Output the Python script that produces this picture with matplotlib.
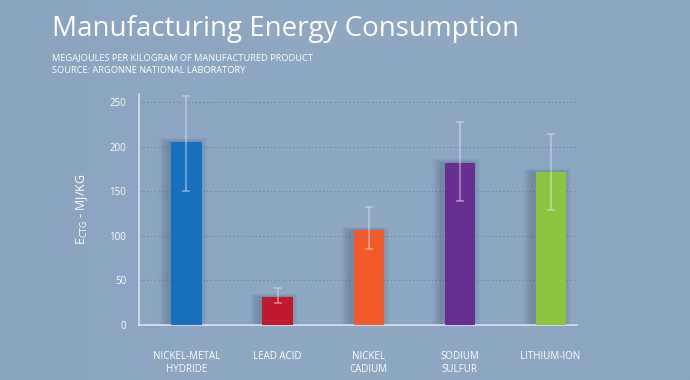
import numpy as np
import matplotlib.pyplot as plt
from matplotlib.colors import LinearSegmentedColormap

plt.rcParams["font.family"] = ["Open Sans", "DejaVu Sans"]

# data
labels = ["NICKEL-METAL\nHYDRIDE", "LEAD ACID", "NICKEL\nCADIUM", "SODIUM\nSULFUR", "LITHIUM-ION"]
energy = [205, 31, 106, 182, 171]
err_low = [150, 25, 85, 139, 129]
err_high = [257, 41, 132, 228, 214]
colors = ["#1670bf", "#c11a2c", "#f15a2a", "#692e91", "#8cc63f"]
yticks = [0, 50, 100, 150, 200, 250]

fig = plt.figure(figsize=(6.9, 3.8), dpi=100)

# background with a faint gradient
bg = fig.add_axes([0, 0, 1, 1], zorder=-10)
grad = np.linspace(0, 1, 256).reshape(1, -1)
cmap = LinearSegmentedColormap.from_list("bg", ["#8aa4c1", "#8fa9c5", "#8ca6c2"])
bg.imshow(grad, aspect="auto", cmap=cmap, extent=[0, 1, 0, 1])
bg.axis("off")

ax = fig.add_axes([0.2014, 0.1447, 0.6348, 0.608])
ax.set_facecolor("none")
x = np.arange(len(labels))

# soft shadows behind the bars
for k in range(7):
    w = 0.33 + 0.028 * (k + 1)
    ax.bar(x - 0.035, np.array(energy) + 0.6 * (k + 1), width=w, color="#26313f",
           alpha=0.035, zorder=1, linewidth=0)

ax.bar(x, energy, width=0.33, color=colors, zorder=3, linewidth=0)

yerr = [np.array(energy) - np.array(err_low), np.array(err_high) - np.array(energy)]
ax.errorbar(x, energy, yerr=yerr, fmt="none", ecolor="#dfe6ef", alpha=0.55,
            elinewidth=1.1, capsize=3, capthick=1.1, zorder=4)

ax.set_xlim(-0.522, 4.29)
ax.set_ylim(0, 259)
ax.set_yticks(yticks)
ax.set_yticklabels([str(t) for t in yticks], color="white", fontsize=7)
ax.set_xticks(x)
ax.set_xticklabels(labels, color="white", fontsize=7, linespacing=1.25)
ax.tick_params(axis="both", length=0)
ax.tick_params(axis="x", pad=19)
ax.tick_params(axis="y", pad=9)

for t in yticks[1:]:
    ax.axhline(t, color="#6f839b", linestyle=(0, (1, 2)), linewidth=0.9, zorder=0)

for s in ["top", "right"]:
    ax.spines[s].set_visible(False)
for s in ["left", "bottom"]:
    ax.spines[s].set_color("#dbe3ec")
    ax.spines[s].set_linewidth(1.2)

ax.set_ylabel(r"E$_{\mathregular{CTG}}$ - MJ/KG", color="white", fontsize=9, labelpad=14)

fig.text(0.075, 0.905, "Manufacturing Energy Consumption", color="white",
         fontsize=20, ha="left", va="baseline")
fig.text(0.075, 0.843, "MEGAJOULES PER KILOGRAM OF MANUFACTURED PRODUCT", color="white",
         fontsize=6.7, ha="left", va="baseline")
fig.text(0.075, 0.809, "SOURCE: ARGONNE NATIONAL LABORATORY", color="white",
         fontsize=6.7, ha="left", va="baseline")

fig.savefig("out.png", dpi=100)
